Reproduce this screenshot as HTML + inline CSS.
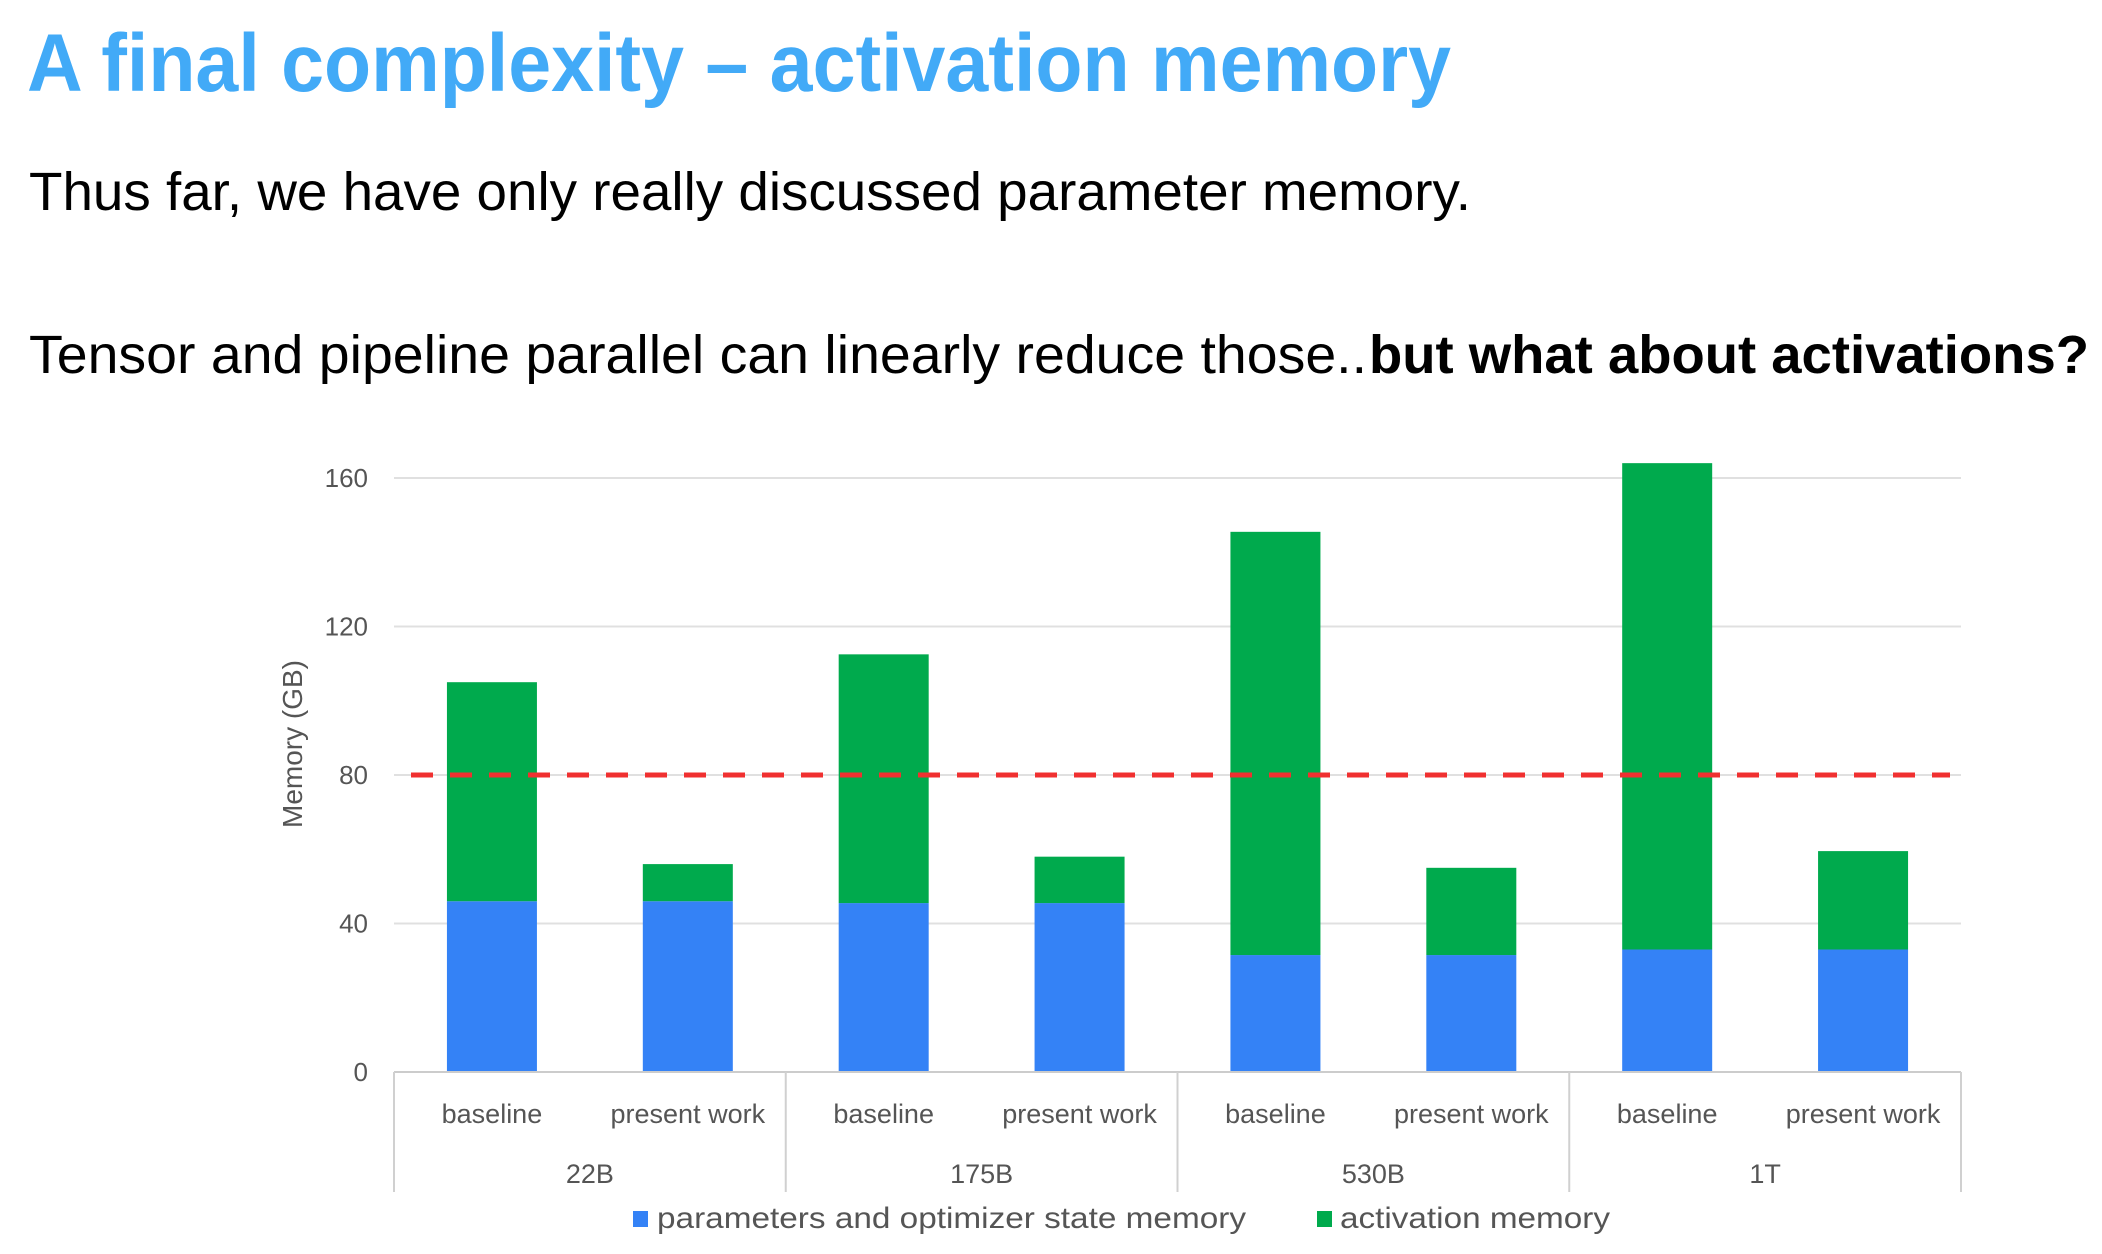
<!DOCTYPE html>
<html><head><meta charset="utf-8"><style>
html,body{margin:0;padding:0;background:#fff;}
svg{display:block;}
</style></head><body>
<svg id="root" width="2102" height="1254" viewBox="0 0 2102 1254" xmlns="http://www.w3.org/2000/svg">
<text x="27" y="91" font-family="Liberation Sans, sans-serif" font-size="82" font-weight="bold" fill="#42aaf7" textLength="1424" lengthAdjust="spacingAndGlyphs">A final complexity – activation memory</text>
<text x="29" y="210" font-family="Liberation Sans, sans-serif" font-size="54" fill="#000" textLength="1442" lengthAdjust="spacingAndGlyphs">Thus far, we have only really discussed parameter memory.</text>
<text x="29" y="373" font-family="Liberation Sans, sans-serif" font-size="54" fill="#000" textLength="1338" lengthAdjust="spacingAndGlyphs">Tensor and pipeline parallel can linearly reduce those..</text>
<text x="1369" y="373" font-family="Liberation Sans, sans-serif" font-size="54" font-weight="bold" fill="#000" textLength="720" lengthAdjust="spacingAndGlyphs">but what about activations?</text>
<g id="chart"></g>
</svg>
<script>
const groups = ["22B","175B","530B","1T"];
const subLabels = ["baseline","present work"];
const paramValues = [46, 46, 45.5, 45.5, 31.5, 31.5, 33, 33];
const totalValues = [105, 56, 112.5, 58, 145.5, 55, 164, 59.5];
const yTicks = [0, 40, 80, 120, 160];
const limitValue = 80;

const NS = "http://www.w3.org/2000/svg";
const chart = document.getElementById("chart");
const X0 = 394, X1 = 1961, Y0 = 1072, YMAX = 160, Y160 = 478;
const y = v => Y0 - (v / YMAX) * (Y0 - Y160);
const slotW = (X1 - X0) / (groups.length * subLabels.length);
const xc = i => X0 + slotW * (i + 0.5);
const BW = 90;
function mk(tag, attrs, txt) {
  const el = document.createElementNS(NS, tag);
  for (const k in attrs) el.setAttribute(k, attrs[k]);
  if (txt !== undefined) el.textContent = txt;
  chart.appendChild(el);
  return el;
}
yTicks.forEach(t => {
  if (t > 0) {
    const g = mk("line", {x1: X0, x2: X1, y1: y(t), y2: y(t), stroke: "#e0e0e0", "stroke-width": 2});
    
    
  }
  const l = mk("text", {x: 368, y: y(t) + 9, "text-anchor": "end", "font-family": "Liberation Sans, sans-serif", "font-size": 26, fill: "#555"}, String(t));
  
  
});
const yt = mk("text", {x: 0, y: 0, transform: "translate(302,744) rotate(-90)", "text-anchor": "middle", "font-family": "Liberation Sans, sans-serif", "font-size": 28, fill: "#555"}, "Memory (GB)");


totalValues.forEach((tot, i) => {
  const p = paramValues[i];
  const b = mk("rect", {x: xc(i) - BW / 2, y: y(p), width: BW, height: y(0) - y(p), fill: "#3482f6"});
  
  
  const g = mk("rect", {x: xc(i) - BW / 2, y: y(tot), width: BW, height: y(p) - y(tot), fill: "#00aa4d"});
  
  
  const t = mk("text", {x: xc(i), y: 1123, "text-anchor": "middle", "font-family": "Liberation Sans, sans-serif", "font-size": 27, fill: "#555"}, subLabels[i % 2]);
  
  
});
const ax = mk("line", {x1: X0, x2: X1, y1: Y0, y2: Y0, stroke: "#ccc", "stroke-width": 2});


for (let k = 0; k <= groups.length; k++) {
  const sx = X0 + k * slotW * subLabels.length;
  const s = mk("line", {x1: sx, x2: sx, y1: Y0, y2: 1192, stroke: "#d0d0d0", "stroke-width": 2});
  
  
}
groups.forEach((gname, k) => {
  const cx = X0 + (k + 0.5) * slotW * subLabels.length;
  const t = mk("text", {x: cx, y: 1183, "text-anchor": "middle", "font-family": "Liberation Sans, sans-serif", "font-size": 27, fill: "#555"}, gname);
  
  
});
const lim = mk("line", {x1: 411, x2: 1950, y1: y(limitValue), y2: y(limitValue), stroke: "#f03030", "stroke-width": 5, "stroke-dasharray": "22 17"});


const s1 = mk("rect", {x: 633, y: 1211, width: 15, height: 16, fill: "#3482f6"});


const l1 = mk("text", {x: 657, y: 1228, "font-family": "Liberation Sans, sans-serif", "font-size": 30, fill: "#555", textLength: 589, lengthAdjust: "spacingAndGlyphs"}, "parameters and optimizer state memory");


const s2 = mk("rect", {x: 1317, y: 1211, width: 15, height: 16, fill: "#00aa4d"});


const l2 = mk("text", {x: 1340, y: 1228, "font-family": "Liberation Sans, sans-serif", "font-size": 30, fill: "#555", textLength: 270, lengthAdjust: "spacingAndGlyphs"}, "activation memory");


</script>
</body></html>
